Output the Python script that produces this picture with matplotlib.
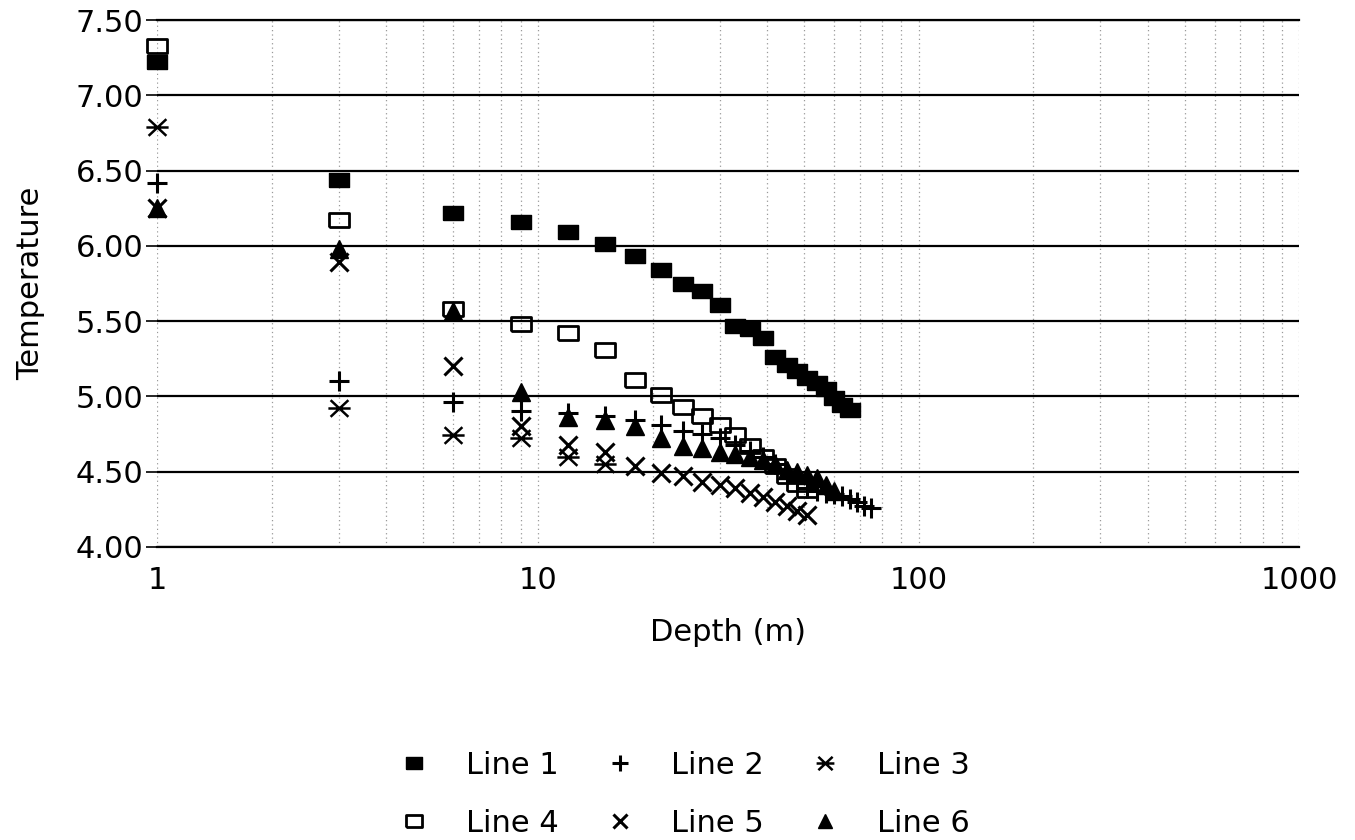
import numpy as np
import matplotlib
matplotlib.use('Agg')
import matplotlib.pyplot as plt
from matplotlib.path import Path
from matplotlib.ticker import FixedLocator, LogLocator, NullFormatter

# Veriler (grafikten okunan yaklaşık değerler)
depth_1 = [1, 3, 6, 9, 12, 15, 18, 21, 24, 27, 30, 33, 36, 39, 42, 45, 48, 51, 54, 57, 60, 63, 66]
temp_1 = [7.22, 6.44, 6.22, 6.16, 6.09, 6.01, 5.93, 5.84, 5.75, 5.70, 5.61, 5.47,
          5.45, 5.39, 5.26, 5.21, 5.17, 5.12, 5.09, 5.05, 4.99, 4.94, 4.91]

depth_2 = [1, 3, 6, 9, 12, 15, 18, 21, 24, 27, 30, 33, 36, 39, 42, 45, 48, 51, 54,
           57, 60, 63, 66, 69, 72, 75]
temp_2 = [6.42, 5.10, 4.96, 4.90, 4.89, 4.87, 4.84, 4.81, 4.77, 4.75, 4.72, 4.68,
          4.64, 4.60, 4.55, 4.50, 4.44, 4.39, 4.37, 4.36, 4.35, 4.34, 4.32, 4.30, 4.27, 4.26]

depth_3 = [1, 3, 6, 9, 12, 15]
temp_3 = [6.79, 4.92, 4.74, 4.72, 4.60, 4.55]

depth_4 = [1, 3, 6, 9, 12, 15, 18, 21, 24, 27, 30, 33, 36, 39, 42, 45, 48, 51]
temp_4 = [7.33, 6.17, 5.58, 5.48, 5.42, 5.31, 5.11, 5.01, 4.93, 4.87, 4.81, 4.74,
          4.67, 4.60, 4.54, 4.47, 4.42, 4.38]

depth_5 = [1, 3, 6, 9, 12, 15, 18, 21, 24, 27, 30, 33, 36, 39, 42, 45, 48, 51]
temp_5 = [6.25, 5.89, 5.20, 4.80, 4.68, 4.63, 4.54, 4.49, 4.47, 4.43, 4.41, 4.39,
          4.36, 4.33, 4.30, 4.27, 4.24, 4.21]

depth_6 = [1, 3, 6, 9, 12, 15, 18, 21, 24, 27, 30, 33, 36, 39, 42, 45, 48, 51, 54, 57, 60]
temp_6 = [6.25, 5.98, 5.57, 5.03, 4.86, 4.84, 4.80, 4.72, 4.67, 4.66, 4.63, 4.62,
          4.60, 4.58, 4.55, 4.51, 4.50, 4.48, 4.46, 4.41, 4.37]

labels = ['Line 1', 'Line 2', 'Line 3', 'Line 4', 'Line 5', 'Line 6']
y_ticks = [4.0, 4.5, 5.0, 5.5, 6.0, 6.5, 7.0, 7.5]
x_ticks = [1, 10, 100, 1000]

plt.rcParams['font.family'] = ['DejaVu Sans']
plt.rcParams['font.size'] = 22

fig = plt.figure(figsize=(13.55, 8.4), dpi=100)
ax = fig.add_axes([0.116, 0.349, 0.843, 0.627])

# dikdörtgen işaretçi (geniş kare)
rect = [(-1.4, -1), (1.4, -1), (1.4, 1), (-1.4, 1), (-1.4, -1)]
# yıldız işaretçi: yatay çizgi + iki çapraz
star_path = Path([(-1, 0), (1, 0), (-0.8, -0.75), (0.8, 0.75), (-0.8, 0.75), (0.8, -0.75)],
                 [Path.MOVETO, Path.LINETO, Path.MOVETO, Path.LINETO, Path.MOVETO, Path.LINETO])

# d=1 noktaları eksen kenarında, kırpılmasın
kw = dict(linestyle='none', color='black', clip_on=False)
h1, = ax.plot(depth_1, temp_1, marker=rect, ms=15, mec='black', **kw)
h2, = ax.plot(depth_2, temp_2, marker='+', ms=14, mew=2.2, **kw)
h3, = ax.plot(depth_3, temp_3, marker=star_path, ms=16, mew=1.8, **kw)
h4, = ax.plot(depth_4, temp_4, marker=rect, ms=15, mew=2, mfc='none', **kw)
h5, = ax.plot(depth_5, temp_5, marker='x', ms=13, mew=2.2, **kw)
h6, = ax.plot(depth_6, temp_6, marker='^', ms=13, **kw)

ax.set_xscale('log')
ax.set_xlim(1, 1000)
ax.set_ylim(4.0, 7.5)

ax.xaxis.set_major_locator(FixedLocator(x_ticks))
ax.set_xticklabels([str(v) for v in x_ticks])
ax.xaxis.set_minor_locator(LogLocator(base=10, subs=np.arange(2, 10)))
ax.xaxis.set_minor_formatter(NullFormatter())
ax.set_yticks(y_ticks)
ax.set_yticklabels([f'{v:.2f}' for v in y_ticks])

ax.tick_params(axis='y', which='major', length=8, width=1.2, direction='out', pad=2)
ax.tick_params(axis='x', which='major', length=0, pad=14)
ax.tick_params(axis='x', which='minor', length=0)

# ızgara çizgileri
ax.grid(True, axis='y', which='major', color='black', linewidth=1.6, linestyle='-')
ax.grid(True, axis='x', which='both', color='#999999', linewidth=0.9, linestyle=(0, (1, 2.5)))
ax.set_axisbelow(True)

for side in ['left', 'right']:
    ax.spines[side].set_visible(False)
for side in ['top', 'bottom']:
    ax.spines[side].set_linewidth(1.6)

ax.set_xlabel('Depth (m)', labelpad=16)
ax.set_ylabel('Temperature', labelpad=22)

# lejant: satır düzeninde 3 sütun
handles = [h1, h4, h2, h5, h3, h6]
leg_labels = [labels[0], labels[3], labels[1], labels[4], labels[2], labels[5]]
fig.legend(handles, leg_labels, loc='center', bbox_to_anchor=(0.505, 0.054), ncol=3,
           frameon=False, markerscale=0.8, handlelength=1.0, handletextpad=1.2,
           columnspacing=1.5, labelspacing=0.95, fontsize=22)

plt.savefig('out.png', dpi=100)
plt.close()
